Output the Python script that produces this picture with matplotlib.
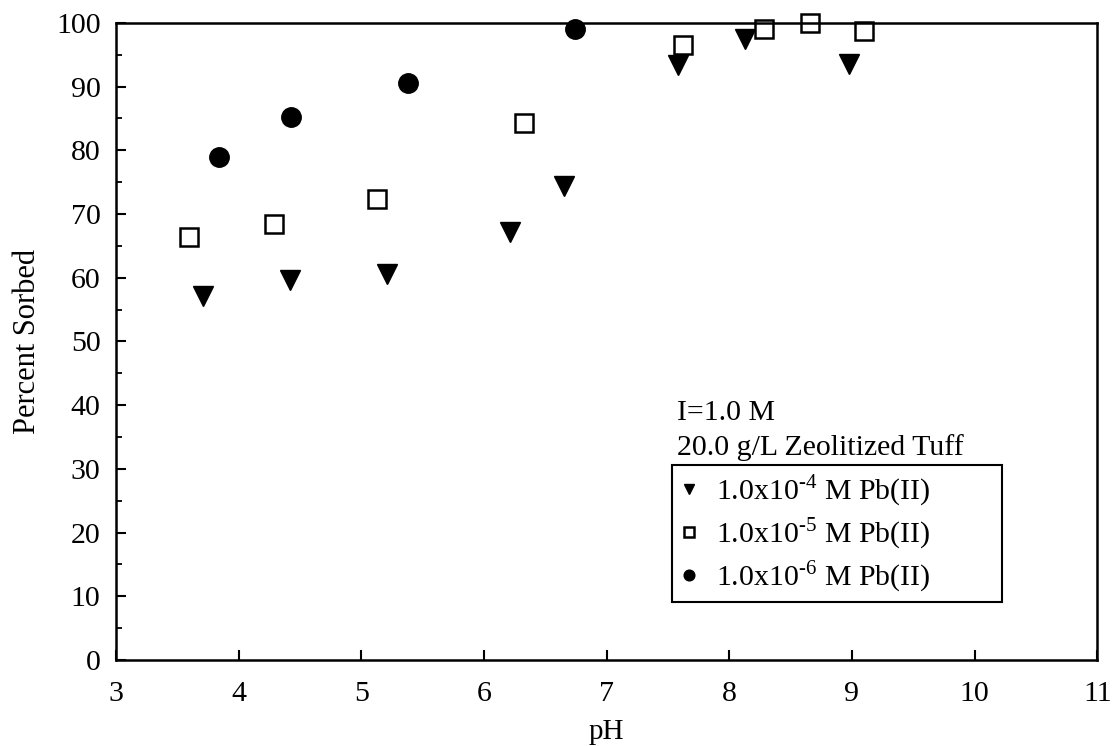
import numpy as np
import matplotlib.pyplot as plt
from matplotlib.ticker import MultipleLocator

plt.rcParams['font.family'] = 'Liberation Serif'
plt.rcParams['mathtext.fontset'] = 'custom'
plt.rcParams['mathtext.rm'] = 'Liberation Serif'

# 1.0x10^-4 M Pb(II)
ph_4 = [3.71, 4.42, 5.21, 6.21, 6.65, 7.58, 8.13, 8.98]
sorb_4 = [57.1, 59.7, 60.6, 67.2, 74.4, 93.4, 97.5, 93.5]
# 1.0x10^-5 M Pb(II)
ph_5 = [3.60, 4.29, 5.13, 6.33, 7.62, 8.28, 8.66, 9.10]
sorb_5 = [66.4, 68.4, 72.4, 84.3, 96.5, 99.0, 100.0, 98.8]
# 1.0x10^-6 M Pb(II)
ph_6 = [3.84, 4.43, 5.38, 6.74]
sorb_6 = [79.0, 85.2, 90.6, 99.0]

labels = [r'1.0x10$^{\text{-4}}$ M Pb(II)',
          r'1.0x10$^{\text{-5}}$ M Pb(II)',
          r'1.0x10$^{\text{-6}}$ M Pb(II)']

fig = plt.figure(figsize=(11.14, 7.46), dpi=100)
ax = fig.add_axes([0.104, 0.1153, 0.881, 0.854])

ax.plot(ph_4, sorb_4, 'v', color='black', ms=14, ls='none', clip_on=False, label=labels[0])
ax.plot(ph_5, sorb_5, 's', mfc='white', mec='black', mew=1.8, ms=12.5, ls='none',
        clip_on=False, label=labels[1])
ax.plot(ph_6, sorb_6, 'o', color='black', ms=14, ls='none', clip_on=False, label=labels[2])

ax.set_xlim(3, 11)
ax.set_ylim(0, 100)
ax.xaxis.set_major_locator(MultipleLocator(1))
ax.yaxis.set_major_locator(MultipleLocator(10))
ax.yaxis.set_minor_locator(MultipleLocator(5))
ax.tick_params(axis='both', which='major', direction='in', length=7, width=1.5,
               labelsize=21.5, top=False, right=False)
ax.tick_params(axis='x', which='major', pad=15)
ax.tick_params(axis='y', which='major', pad=11)
ax.tick_params(axis='y', which='minor', direction='in', length=4, width=1.3, right=False)
for s in ax.spines.values():
    s.set_linewidth(1.8)

ax.set_xlabel('pH', fontsize=21, va='center')
ax.xaxis.set_label_coords(0.5, -0.113)
ax.set_ylabel('Percent Sorbed', fontsize=22, va='center')
ax.yaxis.set_label_coords(-0.0897, 0.5)

ax.text(0.572, 0.388, 'I=1.0 M', transform=ax.transAxes, fontsize=21.5, va='center')
ax.text(0.572, 0.333, '20.0 g/L Zeolitized Tuff', transform=ax.transAxes, fontsize=21.5,
        va='center')

leg = ax.legend(loc='lower left', bbox_to_anchor=(0.567, 0.091, 0.336, 0.21),
                mode='expand', fontsize=21.5, markerscale=0.55, handlelength=0.6,
                handletextpad=0.6, borderpad=0.25, labelspacing=0.22, fancybox=False,
                framealpha=1, edgecolor='black', borderaxespad=0)
leg.get_frame().set_linewidth(1.5)

fig.savefig('out.png', dpi=100)
